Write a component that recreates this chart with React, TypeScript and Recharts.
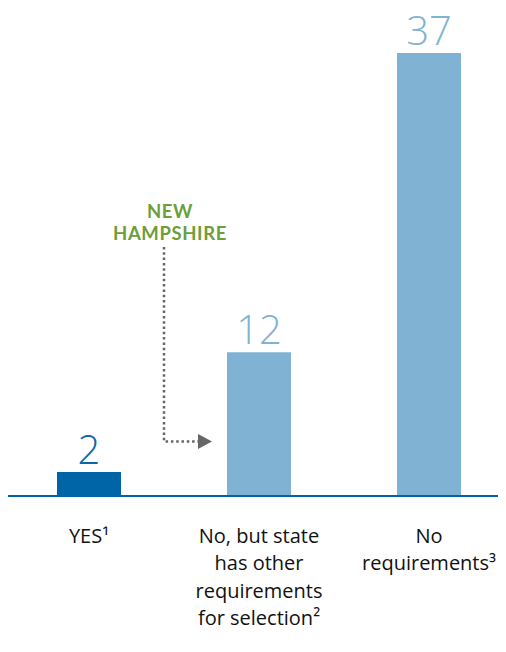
import { Bar, BarChart, Cell, LabelList, XAxis, YAxis } from 'recharts'

const categories = ['YES¹', 'No, but state has other requirements for selection²', 'No requirements³']
const tickLines = [['YES¹'], ['No, but state', 'has other', 'requirements', 'for selection²'], ['No', 'requirements³']]
const counts = [2, 12, 37]
const barColors = ['#0065a6', '#80b2d3', '#80b2d3']
const labelColors = ['#0a68aa', '#80b2d3', '#80b2d3']
const noteLines = ['NEW', 'HAMPSHIRE']

const data = categories.map((name, i) => ({ name, value: counts[i], idx: i }))

const FONT = '"Open Sans", "Noto Sans", sans-serif'

function CategoryTick(props: any) {
  const { x, y, index } = props
  const lines = tickLines[index] || []
  return (
    <text x={x} y={y} textAnchor="middle" fill="#111" fontSize={20} fontFamily={FONT}>
      {lines.map((line, i) => (
        <tspan key={i} x={x} y={y + 45 + i * 27.3}>
          {line}
        </tspan>
      ))}
    </text>
  )
}

function ValueLabel(props: any) {
  const { x, y, width, value, index } = props
  return (
    <text
      x={x + width / 2}
      y={y - 8}
      textAnchor="middle"
      fill={labelColors[index]}
      fontSize={40}
      fontWeight={300}
      fontFamily={FONT}
    >
      {value}
    </text>
  )
}

// dotted pointer from the New Hampshire note to the middle bar
function Annotation() {
  return (
    <svg width={506} height={652} style={{ position: 'absolute', left: 0, top: 0, pointerEvents: 'none' }}>
      {noteLines.map((line, i) => (
        <text
          key={line}
          x={170}
          y={218 + i * 21.5}
          textAnchor="middle"
          fill="#6c9e3a"
          fontSize={18.5}
          fontWeight={700}
          letterSpacing={0.6}
          fontFamily='Lato, "Open Sans", sans-serif'
        >
          {line}
        </text>
      ))}
      <polyline
        points="164,247 164,441.5 199,441.5"
        fill="none"
        stroke="#666"
        strokeWidth={2.5}
        strokeDasharray="2.5 2.8"
      />
      <polygon points="198,434 212,441.5 198,449" fill="#666" />
    </svg>
  )
}

export default function App() {
  return (
    <div style={{ margin: -8, width: 506, height: 652, overflow: 'hidden', position: 'relative', background: '#fff' }}>
      <BarChart width={520} height={652} data={data} margin={{ top: 53, right: 6, bottom: 26, left: 4 }}>
        <YAxis hide domain={[0, 37]} />
        <XAxis
          dataKey="name"
          height={130}
          axisLine={{ stroke: '#0065a6', strokeWidth: 2 }}
          tickLine={false}
          tickSize={0}
          interval={0}
          tick={<CategoryTick />}
        />
        <Bar dataKey="value" barSize={64} isAnimationActive={false}>
          {data.map((d) => (
            <Cell key={d.name} fill={barColors[d.idx]} />
          ))}
          <LabelList dataKey="value" content={<ValueLabel />} />
        </Bar>
      </BarChart>
      <Annotation />
    </div>
  )
}
